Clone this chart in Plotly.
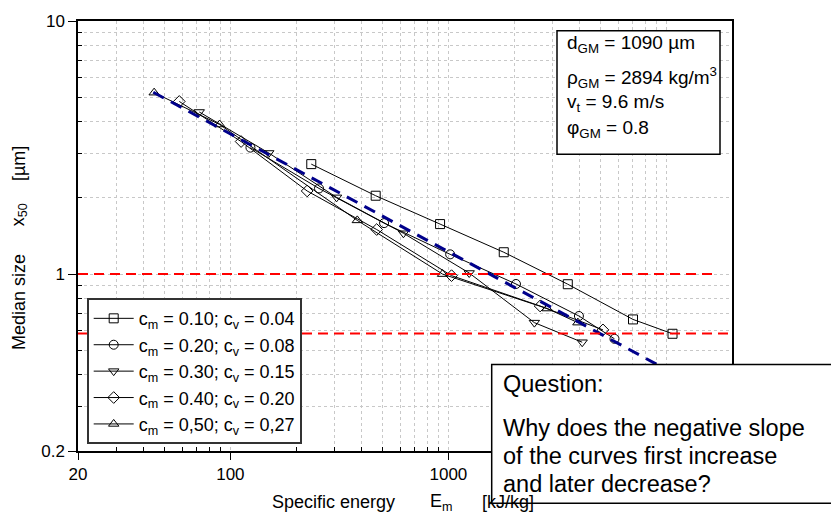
import plotly.graph_objects as go

# ---- data ----
s1_x = [235, 464, 916, 1795, 3530, 7030, 10670]
s1_y = [2.72, 2.04, 1.576, 1.22, 0.912, 0.662, 0.581]
s2_x = [123.6, 255, 507, 1019, 2042, 3970, 5780]
s2_y = [3.16, 2.18, 1.59, 1.197, 0.914, 0.683, 0.555]
s3_x = [72, 150, 307, 622, 1246, 2480, 4110]
s3_y = [4.37, 3.01, 2.01, 1.45, 1.01, 0.643, 0.538]
s4_x = [58.3, 112, 225, 469, 1034, 2635, 5117]
s4_y = [4.81, 3.34, 2.13, 1.50, 0.986, 0.748, 0.602]
s5_x = [44.7, 89.3, 382, 940, 2838, 3926]
s5_y = [5.21, 3.90, 1.63, 1.00, 0.731, 0.643]

series_names = [
    "c<sub>m</sub> = 0.10; c<sub>v</sub> = 0.04",
    "c<sub>m</sub> = 0.20; c<sub>v</sub> = 0.08",
    "c<sub>m</sub> = 0.30; c<sub>v</sub> = 0.15",
    "c<sub>m</sub> = 0.40; c<sub>v</sub> = 0.20",
    "c<sub>m</sub> = 0,50; c<sub>v</sub> = 0,27",
]
series_symbols = ["square-open", "circle-open", "triangle-down-open", "diamond-open", "triangle-up-open"]

fit_x = [44.3, 8995]
fit_y = [5.23, 0.441]
ref1_x = [20, 16600]
ref1_y = [1.0, 1.0]
ref2_x = [20, 20000]
ref2_y = [0.582, 0.582]

x_major = [20, 100, 1000, 10000]
x_major_text = ["20", "100", "1000", ""]
x_minor = [30, 40, 50, 60, 70, 80, 90, 200, 300, 400, 500, 600, 700, 800, 900,
           2000, 3000, 4000, 5000, 6000, 7000, 8000, 9000]
y_major = [0.2, 1, 10]
y_major_text = ["0.2", "1", "10"]
y_minor = [0.3, 0.4, 0.5, 0.6, 0.7, 0.8, 0.9, 2, 3, 4, 5, 6, 7, 8, 9]

param_lines = ["d<sub>GM</sub> = 1090 µm", "ρ<sub>GM</sub> = 2894 kg/m<sup>3</sup>",
               "v<sub>t</sub> = 9.6 m/s", "φ<sub>GM</sub> = 0.8"]
question_title = "Question:"
question_lines = ["Why does the negative slope", "of the curves first increase", "and later decrease?"]

FONT = "Liberation Sans, Arial, sans-serif"

fig = go.Figure()
all_x = [s1_x, s2_x, s3_x, s4_x, s5_x]
all_y = [s1_y, s2_y, s3_y, s4_y, s5_y]
for xs, ys, nm, sym in zip(all_x, all_y, series_names, series_symbols):
    fig.add_trace(go.Scatter(
        x=xs, y=ys, name=nm, mode="lines+markers",
        line=dict(color="black", width=1),
        marker=dict(symbol=sym, size=9, color="black", line=dict(width=1, color="black")),
    ))

fig.add_trace(go.Scatter(x=fit_x, y=fit_y, mode="lines", showlegend=False,
                         line=dict(color="#00008b", width=3, dash="12px,8px")))
fig.add_trace(go.Scatter(x=ref1_x, y=ref1_y, mode="lines", showlegend=False,
                         line=dict(color="#ff0000", width=2, dash="10px,6px")))
fig.add_trace(go.Scatter(x=ref2_x, y=ref2_y, mode="lines", showlegend=False,
                         line=dict(color="#ff0000", width=2, dash="10px,6px")))

grid = dict(showgrid=True, gridcolor="#c8c8c8", griddash="dot", gridwidth=1)
fig.update_xaxes(
    type="log", range=[1.30103, 4.30103], tickmode="array",
    tickvals=x_major, ticktext=x_major_text, ticks="outside", ticklen=7, tickcolor="black",
    showline=True, linecolor="black", linewidth=1.5, mirror=True, zeroline=False,
    tickfont=dict(family=FONT, size=17, color="black"),
    minor=dict(tickmode="array", tickvals=x_minor, ticks="inside", ticklen=4,
               tickcolor="black", **grid),
    **grid,
)
fig.update_yaxes(
    type="log", range=[-0.69897, 1], tickmode="array",
    tickvals=y_major, ticktext=y_major_text, ticks="outside", ticklen=8, tickcolor="black",
    showline=True, linecolor="black", linewidth=1.5, mirror=True, zeroline=False,
    tickfont=dict(family=FONT, size=17, color="black"),
    minor=dict(tickmode="array", tickvals=y_minor, ticks="inside", ticklen=4,
               tickcolor="black", **grid),
    **grid,
)

W, H = 831, 518
L, R, T, B = 78, 732, 15, 451
def px(xp):
    return (xp - L) / (R - L)
def py(yp):
    return (B - yp) / (B - T)

shapes = [
    dict(type="rect", xref="paper", yref="paper",
         x0=px(491.7), x1=px(850), y0=py(504), y1=py(363.3),
         fillcolor="white", line=dict(color="black", width=1.5), layer="above"),
    dict(type="rect", xref="paper", yref="paper",
         x0=px(557), x1=px(720), y0=py(150), y1=py(25),
         fillcolor="white", line=dict(color="black", width=1.5), layer="above"),
]

ann = []
tf = dict(family=FONT, size=18, color="black")
def add_text(text, xp, yp, font, xanchor="left", angle=0):
    ann.append(dict(text=text, x=px(xp), y=py(yp), xref="paper", yref="paper",
                    showarrow=False, font=font, xanchor=xanchor, yanchor="middle",
                    textangle=angle, align="left"))

# axis titles
add_text("Specific energy", 333.5, 503, tf, "center")
add_text("E<sub>m</sub>", 428, 503, tf, "left")
add_text("[kJ/kg]", 508, 503, tf, "center")
add_text("Median size", 19, 300, tf, "center", -90)
add_text("x<sub>50</sub>", 19, 212, tf, "center", -90)
add_text("[µm]", 19, 160, tf, "center", -90)

# parameter box lines
pf = dict(family=FONT, size=19, color="black")
for line, yc in zip(param_lines, [38.5, 72.5, 98, 124.5]):
    add_text(line, 565, yc, pf)

# question
qf = dict(family=FONT, size=23.5, color="black")
add_text(question_title, 501, 383, qf)
for line, yc in zip(question_lines, [428, 456, 484]):
    add_text(line, 501, yc, qf)

fig.update_layout(
    width=W, height=H, margin=dict(l=L, r=W - R, t=T, b=H - B),
    paper_bgcolor="white", plot_bgcolor="white",
    font=dict(family=FONT, size=17, color="black"),
    shapes=shapes, annotations=ann,
    legend=dict(x=px(86.7), y=py(296), xanchor="left", yanchor="top",
                bgcolor="white", bordercolor="#333333", borderwidth=2,
                font=dict(family=FONT, size=18, color="black"),
                tracegroupgap=0, itemwidth=40),
)

fig.write_html("out.html")
